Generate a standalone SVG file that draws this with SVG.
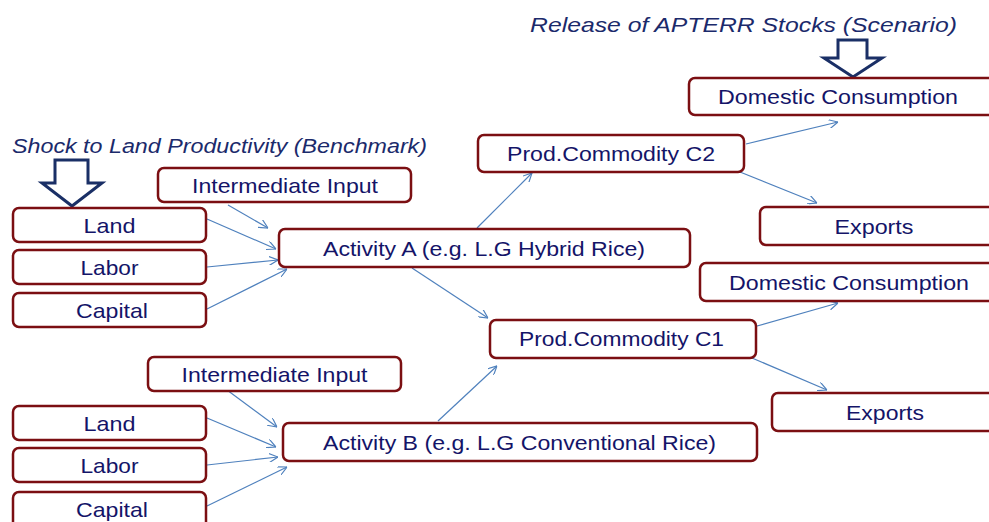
<svg xmlns="http://www.w3.org/2000/svg" width="989" height="522" viewBox="0 0 989 522">
<style>
.box{fill:#fff;stroke:#7b0f12;stroke-width:2.5}
.t{font-family:"Liberation Sans",Arial,sans-serif;font-size:21px;fill:#141468;text-anchor:middle}
.ti{font-family:"Liberation Sans",Arial,sans-serif;font-size:20px;font-style:italic;fill:#1b2a6b}
.c{stroke:#4f81bd;stroke-width:1.2;fill:none;marker-end:url(#ah)}
.big{fill:#fff;stroke:#1a2f66;stroke-width:3;stroke-linejoin:miter}
</style>
<defs>
<marker id="ah" viewBox="0 0 10 10" refX="10" refY="5" markerWidth="9" markerHeight="9" markerUnits="userSpaceOnUse" orient="auto">
<path d="M0,0 L10,5 L0,10" fill="none" stroke="#4f81bd" stroke-width="1.3"/>
</marker>
</defs>
<rect width="989" height="522" fill="#fff"/>
<text class="ti" x="12" y="153" textLength="415" lengthAdjust="spacingAndGlyphs">Shock to Land Productivity (Benchmark)</text>
<text class="ti" x="530" y="32" style="font-size:21px" textLength="427" lengthAdjust="spacingAndGlyphs">Release of APTERR Stocks (Scenario)</text>
<path class="big" d="M55,160 H88 V183 H102 L72,206 L42,183 H55 Z"/>
<path class="big" d="M838,40 H867 V58 H882 L853,77 L824,58 H838 Z"/>
<g id="connectors">
<line class="c" x1="228" y1="205" x2="268" y2="228"/>
<line class="c" x1="207" y1="219" x2="276" y2="249"/>
<line class="c" x1="207" y1="267" x2="278" y2="260"/>
<line class="c" x1="207" y1="309" x2="287" y2="269"/>
<line class="c" x1="412" y1="268" x2="488" y2="318"/>
<line class="c" x1="477" y1="228" x2="532" y2="173"/>
<line class="c" x1="746" y1="144" x2="838" y2="122"/>
<line class="c" x1="740" y1="172" x2="817" y2="203"/>
<line class="c" x1="438" y1="421" x2="497" y2="366"/>
<line class="c" x1="757" y1="326" x2="838" y2="303"/>
<line class="c" x1="752" y1="358" x2="827" y2="390"/>
<line class="c" x1="227" y1="390" x2="277" y2="427"/>
<line class="c" x1="207" y1="418" x2="276" y2="447"/>
<line class="c" x1="207" y1="465" x2="278" y2="457"/>
<line class="c" x1="207" y1="506" x2="287" y2="467"/>
</g>
<g id="landA"><rect class="box" x="13" y="208" width="193" height="34" rx="6"/><text class="t" x="109.5" y="233" textLength="52" lengthAdjust="spacingAndGlyphs">Land</text></g>
<g id="laborA"><rect class="box" x="13" y="250" width="193" height="34" rx="6"/><text class="t" x="109.5" y="275" textLength="58" lengthAdjust="spacingAndGlyphs">Labor</text></g>
<g id="capitalA"><rect class="box" x="13" y="293" width="193" height="34" rx="6"/><text class="t" x="112" y="318" textLength="72" lengthAdjust="spacingAndGlyphs">Capital</text></g>
<g id="interA"><rect class="box" x="158" y="168" width="253" height="34" rx="6"/><text class="t" x="285" y="193" textLength="186" lengthAdjust="spacingAndGlyphs">Intermediate Input</text></g>
<g id="activityA"><rect class="box" x="279" y="229" width="411" height="38" rx="6"/><text class="t" x="484" y="256" textLength="322" lengthAdjust="spacingAndGlyphs">Activity A (e.g. L.G Hybrid Rice)</text></g>
<g id="c2"><rect class="box" x="478" y="135" width="266" height="37" rx="6"/><text class="t" x="611" y="161" textLength="208" lengthAdjust="spacingAndGlyphs">Prod.Commodity C2</text></g>
<g id="domTop"><rect class="box" x="689" y="78" width="310" height="37" rx="6"/><text class="t" x="838" y="104" textLength="240" lengthAdjust="spacingAndGlyphs">Domestic Consumption</text></g>
<g id="expTop"><rect class="box" x="760" y="207" width="240" height="38" rx="6"/><text class="t" x="874" y="234" textLength="79" lengthAdjust="spacingAndGlyphs">Exports</text></g>
<g id="dom2"><rect class="box" x="700" y="263" width="300" height="38" rx="6"/><text class="t" x="849" y="290" textLength="240" lengthAdjust="spacingAndGlyphs">Domestic Consumption</text></g>
<g id="c1"><rect class="box" x="490" y="320" width="266" height="38" rx="6"/><text class="t" x="621.5" y="346" textLength="205" lengthAdjust="spacingAndGlyphs">Prod.Commodity C1</text></g>
<g id="exp2"><rect class="box" x="772" y="393" width="230" height="38" rx="6"/><text class="t" x="885" y="420" textLength="78" lengthAdjust="spacingAndGlyphs">Exports</text></g>
<g id="interB"><rect class="box" x="148" y="357" width="253" height="34" rx="6"/><text class="t" x="274.5" y="382" textLength="186" lengthAdjust="spacingAndGlyphs">Intermediate Input</text></g>
<g id="activityB"><rect class="box" x="283" y="423" width="474" height="38" rx="6"/><text class="t" x="519.5" y="450" textLength="393" lengthAdjust="spacingAndGlyphs">Activity B (e.g. L.G Conventional Rice)</text></g>
<g id="landB"><rect class="box" x="13" y="406" width="193" height="34" rx="6"/><text class="t" x="109.5" y="431" textLength="52" lengthAdjust="spacingAndGlyphs">Land</text></g>
<g id="laborB"><rect class="box" x="13" y="448" width="193" height="34" rx="6"/><text class="t" x="109.5" y="473" textLength="58" lengthAdjust="spacingAndGlyphs">Labor</text></g>
<g id="capitalB"><rect class="box" x="13" y="492" width="193" height="36" rx="6"/><text class="t" x="112" y="517" textLength="72" lengthAdjust="spacingAndGlyphs">Capital</text></g>
</svg>
